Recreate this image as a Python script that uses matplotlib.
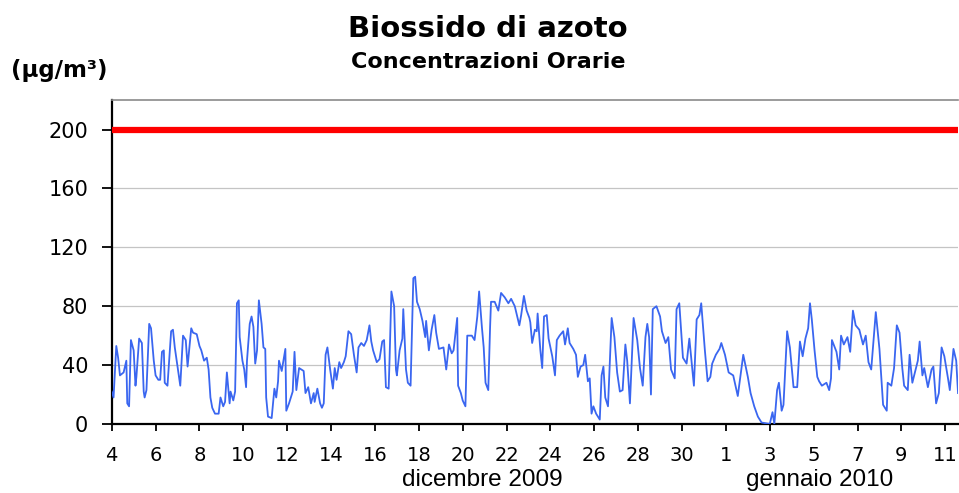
import matplotlib
matplotlib.use('Agg')
import matplotlib.pyplot as plt
import matplotlib.transforms as mtransforms
import pandas as pd

# inizio della serie oraria
inizio = pd.Timestamp('2009-12-04 00:00')

# ore dall'inizio e concentrazioni NO2 (ug/m3)
ore = [0, 2, 5, 7, 9, 13, 16, 17, 19, 21, 24, 26, 27, 30, 33, 35, 36, 38, 41, 43,
       46, 48, 51, 53, 55, 57, 58, 61, 65, 67, 69, 72, 75, 78, 81, 83, 85, 87, 89, 93,
       96, 98, 101, 104, 106, 108, 110, 113, 117, 119, 122, 124, 126, 129, 130, 133, 135, 137, 139, 140,
       143, 145, 147, 148, 151,
       153, 155, 157, 159, 161, 164, 166, 168, 169, 171, 175, 178, 180, 182, 183, 186, 190, 191, 194, 198,
       200, 202, 205, 210, 212, 215, 218, 221, 222, 225, 228, 230, 232, 234, 236, 239, 242, 244, 246, 249,
       251, 254, 256, 259, 262, 265, 268, 270, 273, 276, 279, 282, 284, 286, 290, 293, 296, 298, 300, 303,
       304, 306, 309, 311, 312, 315, 318, 319, 322, 324, 327, 330, 332, 334, 337, 340, 343, 344, 347, 350,
       353, 355, 358, 363, 366, 369, 372, 374, 378, 379, 382, 384, 387, 389, 394, 397, 400, 402, 405, 407,
       409, 412, 414, 415, 419, 423, 426, 430, 434, 437, 441, 446, 448, 451, 454, 457,
       458, 460, 463, 465, 466, 469, 471, 473, 476, 478, 482, 485, 487, 490, 494, 496, 499, 501, 505, 508,
       510, 513, 516, 518, 521, 523, 525, 527, 530, 534, 536, 538, 540, 543, 547, 550, 553, 556, 559, 562,
       564, 567, 571, 575, 578, 581, 584, 586, 588, 590, 592, 596, 600, 602, 606, 609,
       612, 616, 618, 621, 623, 625, 629, 632, 637, 640, 643, 645, 649, 652, 655, 657, 661, 665, 667, 671,
       675, 680, 685, 691, 696, 699, 703, 707, 711, 720, 723, 725, 728, 730, 733, 735, 739, 742, 746, 750,
       753, 756, 759, 762, 764,
       766, 769, 772, 774, 777, 782, 785, 787, 788, 793, 796, 798, 801, 805, 808, 811, 814, 818, 822, 825,
       828, 831, 836, 840, 842, 844, 848, 849, 853, 856, 859, 862, 865, 867, 871, 873, 876, 882, 884, 887,
       889, 893, 897, 899, 902, 905, 908, 911, 915, 917, 921, 924, 926]
no2 = [22, 18, 53, 45, 33, 35, 43, 14, 12, 57, 50, 26, 32, 58, 55, 22, 18, 23, 68, 65,
       43, 33, 30, 30, 49, 50, 28, 26, 63, 64, 52, 39, 26, 60, 57, 39, 52, 65, 62, 61,
       53, 50, 43, 45, 37, 18, 11, 7, 7, 18, 12, 15, 35, 14, 22, 16, 22, 82, 84, 59,
       43, 37, 25, 43, 68,
       73, 66, 41, 50, 84, 68, 52, 51, 18, 5, 4, 24, 18, 29, 43, 36, 51, 9, 14, 22,
       49, 23, 38, 36, 21, 25, 14, 21, 15, 24, 14, 11, 14, 47, 52, 37, 24, 38, 30, 42,
       38, 42, 46, 63, 61, 47, 35, 52, 55, 53, 57, 67, 56, 50, 42, 44, 56, 57, 25, 24,
       44, 90, 80, 37, 33, 50, 58, 78, 37, 28, 26, 99, 100, 83, 78, 70, 59, 70, 50, 64,
       74, 62, 51, 52, 37, 54, 48, 50, 72, 26, 21, 16, 12, 60, 60, 57, 73, 90, 66, 52,
       28, 23, 66, 83, 83, 77, 89, 86, 82, 85, 80, 67, 74, 87, 77, 72,
       69, 55, 64, 63, 75, 50, 38, 73, 74, 58, 46, 33, 57, 60, 63, 54, 65, 55, 51, 47,
       32, 39, 40, 47, 29, 31, 7, 12, 7, 3, 33, 39, 18, 12, 72, 59, 35, 22, 23, 54,
       43, 14, 72, 57, 38, 26, 59, 68, 59, 20, 78, 80, 73, 63, 55, 59,
       37, 31, 78, 82, 64, 45, 41, 58, 26, 71, 74, 82, 50, 29, 32, 41, 47, 51, 55, 47,
       35, 33, 19, 47, 32, 21, 12, 5, 1, 0, 8, 0, 23, 28, 9, 13, 63, 52, 25, 25,
       56, 46, 58, 65, 82,
       71, 50, 32, 29, 26, 28, 23, 31, 57, 49, 37, 60, 54, 59, 49, 77, 67, 64, 54, 60,
       42, 37, 76, 51, 32, 13, 9, 28, 26, 38, 67, 62, 38, 26, 23, 47, 28, 43, 56, 33,
       38, 25, 37, 39, 14, 21, 52, 46, 31, 23, 51, 43, 21]

limite = 200  # valore limite orario
yticks = [0, 40, 80, 120, 160, 200]
giorni_tick = pd.date_range(inizio, periods=20, freq='2D')
mesi = ['dicembre 2009', 'gennaio 2010']
pos_mesi = [pd.Timestamp('2009-12-20 21:00'), pd.Timestamp('2010-01-05 07:00')]

tempi = inizio + pd.to_timedelta(ore, unit='h')

fig = plt.figure(figsize=(9.59, 4.93), dpi=100)
ax = fig.add_axes([0.1165, 0.14, 0.8825, 0.657])

ax.plot(tempi, no2, color='#3a66f0', lw=1.3, zorder=3)
ax.axhline(limite, color='#ff0000', lw=4.5, zorder=4)

ax.set_ylim(0, 220)
ax.set_xlim(tempi[0], tempi[-1])
ax.set_yticks(yticks)
ax.set_xticks(giorni_tick)
ax.set_xticklabels([str(d.day) for d in giorni_tick])
ax.yaxis.grid(True, color='#c4c4c4', lw=0.9, zorder=0)
ax.set_axisbelow(True)

ax.spines['left'].set_color('black')
ax.spines['left'].set_linewidth(1.6)
ax.spines['bottom'].set_color('black')
ax.spines['bottom'].set_linewidth(1.6)
ax.spines['top'].set_color('#8a8a8a')
ax.spines['top'].set_linewidth(1.2)
ax.spines['right'].set_visible(False)

ax.tick_params(axis='y', direction='out', length=7, width=1.3, pad=10, labelsize=15)
ax.tick_params(axis='x', direction='out', length=5, width=1.3, pad=11, labelsize=14)

# etichette dei mesi sotto l'asse
trans = mtransforms.blended_transform_factory(ax.transData, ax.transAxes)
for m, p in zip(mesi, pos_mesi):
    ax.text(p, -0.19, m, transform=trans, ha='center', va='baseline',
            fontsize=17.5, family='Liberation Sans')

fig.text(0.509, 0.925, 'Biossido di azoto', ha='center', va='baseline',
         fontsize=21, fontweight='bold')
fig.text(0.509, 0.862, 'Concentrazioni Orarie', ha='center', va='baseline',
         fontsize=16, fontweight='bold')
fig.text(0.011, 0.844, '(\u03bcg/m\u00b3)', ha='left', va='baseline',
         fontsize=16.5, fontweight='bold')

fig.savefig('out.png', dpi=100)
